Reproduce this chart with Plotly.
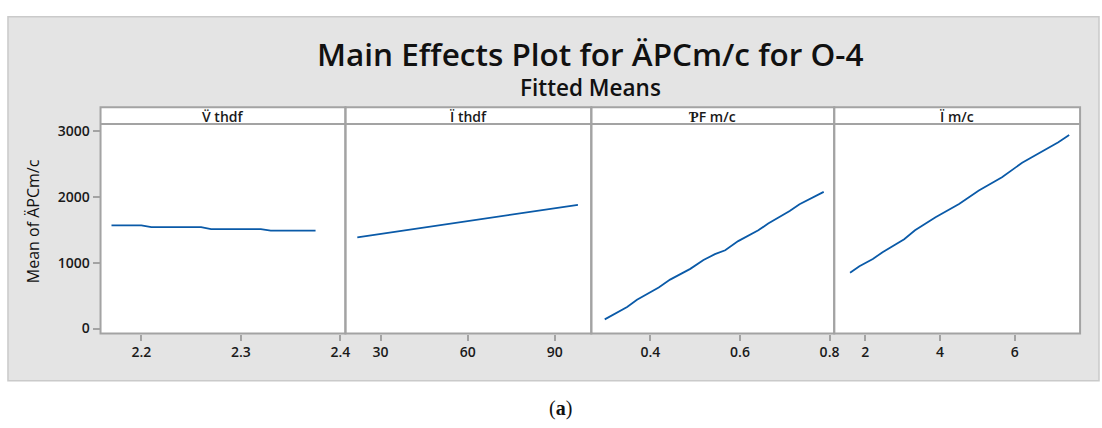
import plotly.graph_objects as go

W, H = 1102, 428

# ---- data ----
strip_labels = ["V\u0308 thdf", "\u00cf thdf", "\u01a4F m/c", "\u00cf m/c"]

p1_x = [2.17, 2.20, 2.21, 2.26, 2.27, 2.32, 2.33, 2.375]
p1_y = [1565, 1565, 1540, 1540, 1510, 1510, 1485, 1485]

p2_x = [22, 40, 60, 80, 98]
p2_y = [1385, 1501, 1631, 1760, 1877]

p3_x = [0.298, 0.348, 0.370, 0.4185, 0.444, 0.489, 0.5185, 0.544, 0.567, 0.596,
        0.641, 0.663, 0.711, 0.733, 0.787]
p3_y = [139, 327, 436, 624, 743, 906, 1040, 1129, 1189, 1327, 1491, 1595, 1783, 1887, 2075]

p4_x = [1.59, 1.84, 2.20, 2.46, 3.04, 3.33, 3.88, 4.20, 4.51, 5.04, 5.66, 6.20,
        6.55, 6.82, 7.17, 7.46]
p4_y = [847, 946, 1055, 1159, 1357, 1491, 1689, 1798, 1892, 2095, 2298, 2516,
        2625, 2719, 2828, 2937]

x_ranges = [[2.159, 2.405], [17.9, 102.6], [0.268, 0.8104], [1.165, 7.752]]
x_ticks = [[2.2, 2.3, 2.4], [30, 60, 90], [0.4, 0.6, 0.8], [2, 4, 6]]
x_ticktext = [["2.2", "2.3", "2.4"], ["30", "60", "90"], ["0.4", "0.6", "0.8"], ["2", "4", "6"]]
y_ticks = [0, 1000, 2000, 3000]
y_range = [-75, 3105]

series = [(p1_x, p1_y), (p2_x, p2_y), (p3_x, p3_y), (p4_x, p4_y)]

# ---- layout helpers (pixel positions) ----
panel_edges = [101, 347, 594, 838, 1085]
plot_top, plot_bot = 123, 336
strip_top = 106

def px(x):
    return x / W

def py(y):
    return 1 - y / H

FONT = "Open Sans"
GRID = "#a3a3a3"
LINE = "#0a5aa8"
TXT = "#1a1a1a"

fig = go.Figure()

layout = dict(
    width=W, height=H,
    margin=dict(l=0, r=0, t=0, b=0),
    paper_bgcolor="white",
    plot_bgcolor="white",
    showlegend=False,
    font=dict(family=FONT, color=TXT),
)

tickfont = dict(size=14, family=FONT, color=TXT, weight=600)

for i, (xs, ys) in enumerate(series):
    n = "" if i == 0 else str(i + 1)
    fig.add_trace(go.Scatter(
        x=xs, y=ys, mode="lines",
        line=dict(color=LINE, width=1.8),
        xaxis="x" + n, yaxis="y" + n,
        hoverinfo="skip",
    ))
    layout["xaxis" + n] = dict(
        domain=[px(panel_edges[i]), px(panel_edges[i + 1])],
        range=x_ranges[i],
        tickmode="array", tickvals=x_ticks[i], ticktext=x_ticktext[i],
        ticks="outside", ticklen=6, tickwidth=1.5, tickcolor=GRID,
        showgrid=False, zeroline=False, showline=False,
        tickfont=tickfont,
        anchor="y" + n, fixedrange=True,
    )
    layout["yaxis" + n] = dict(
        domain=[py(plot_bot), py(plot_top)],
        range=y_range,
        tickmode="array", tickvals=y_ticks,
        ticks="outside" if i == 0 else "", ticklen=7, tickwidth=1.5, tickcolor=GRID,
        showticklabels=(i == 0),
        showgrid=False, zeroline=False, showline=False,
        tickfont=tickfont,
        anchor="x" + n, fixedrange=True,
    )

shapes = [
    dict(type="rect", xref="paper", yref="paper", layer="below",
         x0=px(8), x1=px(1104), y0=py(384), y1=py(14),
         fillcolor="#e4e4e4", line=dict(color="#cacaca", width=1.5)),
]
annotations = []
for i in range(4):
    x0, x1 = px(panel_edges[i]), px(panel_edges[i + 1])
    shapes.append(dict(
        type="rect", xref="paper", yref="paper", layer="below",
        x0=x0, x1=x1, y0=py(plot_bot), y1=py(strip_top),
        fillcolor="white", line=dict(width=0),
    ))
    shapes.append(dict(
        type="rect", xref="paper", yref="paper",
        x0=x0, x1=x1, y0=py(plot_bot), y1=py(strip_top),
        fillcolor="rgba(0,0,0,0)", line=dict(color=GRID, width=2),
    ))
    shapes.append(dict(
        type="line", xref="paper", yref="paper",
        x0=x0, x1=x1, y0=py(plot_top), y1=py(plot_top),
        line=dict(color=GRID, width=2),
    ))
    annotations.append(dict(
        xref="paper", yref="paper",
        x=(x0 + x1) / 2, y=py(115),
        text=strip_labels[i], showarrow=False,
        xanchor="center", yanchor="middle",
        font=dict(size=14, family=FONT, color=TXT, weight=600),
    ))

annotations += [
    dict(xref="paper", yref="paper", x=px(593), y=py(51),
         text="Main Effects Plot for \u00c4PCm/c for O-4", showarrow=False,
         xanchor="center", yanchor="middle",
         font=dict(size=31.5, family=FONT, color="#111111", weight=600)),
    dict(xref="paper", yref="paper", x=px(593), y=py(86),
         text="Fitted Means", showarrow=False,
         xanchor="center", yanchor="middle",
         font=dict(size=22.5, family=FONT, color="#111111", weight=600)),
    dict(xref="paper", yref="paper", x=px(34), y=py(222),
         text="Mean of \u00c4PCm/c", showarrow=False, textangle=-90,
         xanchor="center", yanchor="middle",
         font=dict(size=16, family=FONT, color="#111111")),
    dict(xref="paper", yref="paper", x=px(563), y=py(412),
         text="(<b>a</b>)", showarrow=False,
         xanchor="center", yanchor="middle",
         font=dict(size=20, family="Liberation Serif", color="#111111")),
]

layout["shapes"] = shapes
layout["annotations"] = annotations
fig.update_layout(**layout)

fig.write_html("out.html", config={"displayModeBar": False},
               post_script="document.body.style.margin='0';")
